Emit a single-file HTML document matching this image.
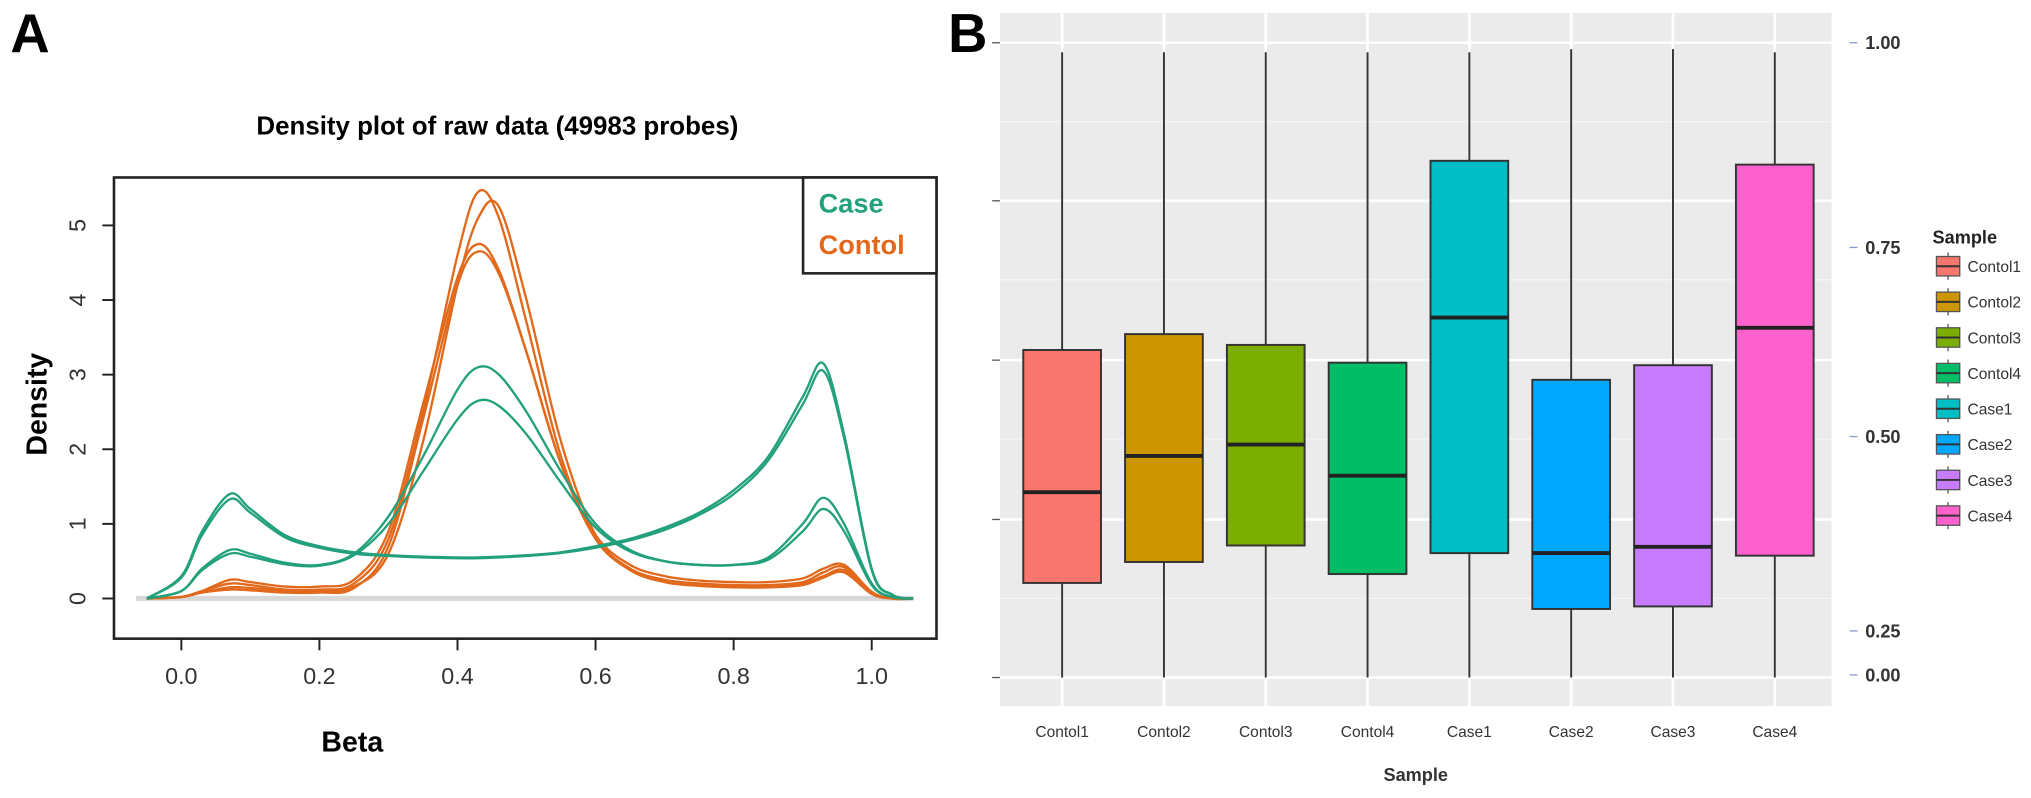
<!DOCTYPE html>
<html><head><meta charset="utf-8">
<style>
body{margin:0;background:#fff;}
svg{display:block;font-family:"Liberation Sans",Arial,sans-serif;}
</style></head>
<body>
<svg id="chart" width="2031" height="798" viewBox="0 0 1568 616" preserveAspectRatio="none">
<text x="8" y="40" font-size="42" font-weight="bold">A</text>
<text x="732" y="40" font-size="42" font-weight="bold">B</text>
<text x="384" y="104" font-size="20" font-weight="bold" text-anchor="middle">Density plot of raw data (49983 probes)</text>
<g id="left"></g>
<g id="right"></g>
</svg>
<script>
const NS="http://www.w3.org/2000/svg";
function mk(tag,attrs,parent,txt){const e=document.createElementNS(NS,tag);for(const k in attrs)e.setAttribute(k,attrs[k]);if(txt!==undefined)e.textContent=txt;parent.appendChild(e);return e;}

// ---- Density data ----
const betaGrid=[-0.05,0,0.03,0.07,0.1,0.15,0.2,0.25,0.3,0.35,0.4,0.43,0.46,0.5,0.55,0.6,0.65,0.7,0.75,0.8,0.85,0.9,0.93,0.96,1.0,1.03,1.06];
const caseA=[0,0.3,0.9,1.4,1.2,0.85,0.7,0.62,0.58,0.56,0.55,0.55,0.56,0.58,0.62,0.7,0.8,0.95,1.15,1.45,1.9,2.7,3.15,2.2,0.4,0.05,0];
const caseB=[0,0.28,0.85,1.33,1.15,0.82,0.68,0.6,0.57,0.55,0.54,0.54,0.55,0.57,0.61,0.68,0.78,0.92,1.12,1.4,1.85,2.6,3.05,2.15,0.38,0.05,0];
const caseC=[0,0.1,0.4,0.65,0.6,0.48,0.45,0.6,1.1,1.9,2.8,3.1,3.0,2.5,1.7,1.0,0.65,0.5,0.45,0.45,0.55,1.0,1.35,1.0,0.2,0.02,0];
const caseD=[0,0.1,0.38,0.6,0.56,0.46,0.44,0.58,1.0,1.7,2.4,2.65,2.58,2.2,1.55,0.95,0.63,0.5,0.45,0.45,0.52,0.9,1.2,0.9,0.18,0.02,0];
const ctl1=[0,0.02,0.1,0.2,0.18,0.12,0.12,0.2,0.8,2.5,4.6,5.45,5.1,3.7,1.9,0.8,0.4,0.25,0.2,0.18,0.18,0.22,0.35,0.42,0.08,0,0];
const ctl2=[0,0.02,0.08,0.15,0.14,0.1,0.1,0.16,0.6,2.1,4.2,5.1,5.25,4.0,2.1,0.85,0.4,0.25,0.2,0.17,0.17,0.2,0.3,0.38,0.07,0,0];
const ctl3=[0,0.02,0.1,0.25,0.22,0.16,0.16,0.25,0.9,2.6,4.3,4.75,4.4,3.3,1.8,0.85,0.45,0.3,0.24,0.22,0.22,0.27,0.4,0.45,0.09,0,0];
const ctl4=[0,0.02,0.08,0.12,0.11,0.08,0.08,0.14,0.7,2.4,4.2,4.65,4.35,3.3,1.8,0.8,0.38,0.22,0.17,0.15,0.15,0.18,0.28,0.35,0.06,0,0];
const caseSeries=[caseA,caseB,caseC,caseD];
const ctlSeries=[ctl1,ctl2,ctl3,ctl4];
const xTicks=[0.0,0.2,0.4,0.6,0.8,1.0];
const yTicks=[0,1,2,3,4,5];

const L=document.getElementById('left');
const xs=v=>140+v*533, ys=v=>462-v*57.6;
function smooth(pts){let d=`M${pts[0][0]},${pts[0][1]}`;for(let i=0;i<pts.length-1;i++){const p0=pts[Math.max(0,i-1)],p1=pts[i],p2=pts[i+1],p3=pts[Math.min(pts.length-1,i+2)];
const c1=[p1[0]+(p2[0]-p0[0])/6,p1[1]+(p2[1]-p0[1])/6],c2=[p2[0]-(p3[0]-p1[0])/6,p2[1]-(p3[1]-p1[1])/6];d+=` C${c1[0]},${c1[1]} ${c2[0]},${c2[1]} ${p2[0]},${p2[1]}`;}return d;}
let e=mk('line',{x1:105,x2:705,y1:ys(0),y2:ys(0),stroke:'#d8d8d8','stroke-width':4},L);

ctlSeries.forEach((s,i)=>{const p=mk('path',{d:smooth(betaGrid.map((b,j)=>[xs(b),ys(s[j])])),fill:'none',stroke:'#e2691c','stroke-width':1.8},L);
});
caseSeries.forEach((s,i)=>{const p=mk('path',{d:smooth(betaGrid.map((b,j)=>[xs(b),ys(s[j])])),fill:'none',stroke:'#23a07c','stroke-width':1.8},L);
});
e=mk('rect',{x:88,y:137,width:635,height:356,fill:'none',stroke:'#222','stroke-width':2},L);

xTicks.forEach(t=>{mk('line',{x1:xs(t),x2:xs(t),y1:493,y2:502,stroke:'#222','stroke-width':1.5},L);
const tx=mk('text',{x:xs(t),y:528,'font-size':18,'text-anchor':'middle',fill:'#333'},L,t.toFixed(1));
});
yTicks.forEach(t=>{mk('line',{x1:88,x2:79,y1:ys(t),y2:ys(t),stroke:'#222','stroke-width':1.5},L);
const tx=mk('text',{x:66,y:ys(t),'font-size':18,'text-anchor':'middle',fill:'#333',transform:`rotate(-90 66 ${ys(t)})`},L,String(t));
});
e=mk('text',{x:272,y:580,'font-size':22,'font-weight':'bold','text-anchor':'middle'},L,'Beta');

e=mk('text',{x:36,y:312,'font-size':22,'font-weight':'bold','text-anchor':'middle',transform:'rotate(-90 36 312)'},L,'Density');

e=mk('rect',{x:620,y:137,width:103,height:74,fill:'#fff',stroke:'#222','stroke-width':2},L);

e=mk('text',{x:632,y:164,'font-size':21,'font-weight':'bold',fill:'#23a07c'},L,'Case');

e=mk('text',{x:632,y:196,'font-size':21,'font-weight':'bold',fill:'#e2691c'},L,'Contol');


// ---- Boxplot data ----
const samples=['Contol1','Contol2','Contol3','Contol4','Case1','Case2','Case3','Case4'];
const colors=['#f8766d','#cd9600','#7cae00','#00be67','#00bfc4','#00a9ff','#c77cff','#ff61cc'];
const q1=[0.149,0.182,0.208,0.163,0.196,0.108,0.112,0.192];
const med=[0.292,0.349,0.367,0.318,0.567,0.196,0.206,0.551];
const q3=[0.516,0.541,0.524,0.496,0.814,0.469,0.492,0.808];
const wlo=[0,0,0,0,0,0,0,0];
const whi=[0.985,0.985,0.985,0.985,0.985,0.99,0.99,0.985];
const rTickLabels=['1.00','0.75','0.50','0.25','0.00'];
const rTickYs=[33,191,337,487,521];

const R=document.getElementById('right');
const by=v=>523-v*490, bx=i=>820+i*78.6;
e=mk('rect',{x:772,y:10,width:642,height:535,fill:'#ebebeb'},R);

[33,155,278,401,523].forEach(y=>mk('line',{x1:772,x2:1414,y1:y,y2:y,stroke:'#fff','stroke-width':2},R));
[94,216,339,462].forEach(y=>mk('line',{x1:772,x2:1414,y1:y,y2:y,stroke:'#f5f5f5','stroke-width':1},R));
samples.forEach((s,i)=>mk('line',{x1:bx(i),x2:bx(i),y1:10,y2:545,stroke:'#fff','stroke-width':2},R));
[33,155,278,401,523].forEach(y=>mk('line',{x1:766,x2:772,y1:y,y2:y,stroke:'#555','stroke-width':1},R));
samples.forEach((s,i)=>{const g=mk('g',{},R);

mk('line',{x1:bx(i),x2:bx(i),y1:by(whi[i]),y2:by(wlo[i]),stroke:'#333','stroke-width':1.5},g);
mk('rect',{x:bx(i)-30,y:by(q3[i]),width:60,height:by(q1[i])-by(q3[i]),fill:colors[i],stroke:'#333','stroke-width':1.5},g);
mk('line',{x1:bx(i)-30,x2:bx(i)+30,y1:by(med[i]),y2:by(med[i]),stroke:'#222','stroke-width':3},g);
const t=mk('text',{x:bx(i),y:569,'font-size':12,'text-anchor':'middle',fill:'#333'},R,s);
});
rTickLabels.forEach((l,i)=>{mk('line',{x1:1428,x2:1434,y1:rTickYs[i],y2:rTickYs[i],stroke:'#8899cc','stroke-width':1},R);
const t=mk('text',{x:1440,y:rTickYs[i]+5,'font-size':14,'font-weight':'bold',fill:'#333'},R,l);
});
e=mk('text',{x:1093,y:603,'font-size':14,'font-weight':'bold','text-anchor':'middle',fill:'#333'},R,'Sample');

e=mk('text',{x:1492,y:188,'font-size':14,'font-weight':'bold',fill:'#222'},R,'Sample');

samples.forEach((s,i)=>{const y=198+i*27.5;const g=mk('g',{},R);

mk('line',{x1:1504,x2:1504,y1:y-3,y2:y+18,stroke:'#555','stroke-width':1},g);
mk('rect',{x:1495,y:y,width:18,height:15,fill:colors[i],stroke:'#555','stroke-width':1},g);
mk('line',{x1:1495,x2:1513,y1:y+7.5,y2:y+7.5,stroke:'#333','stroke-width':1.5},g);
mk('text',{x:1519,y:y+12,'font-size':12,fill:'#333'},g,s);});
</script>
</body></html>
